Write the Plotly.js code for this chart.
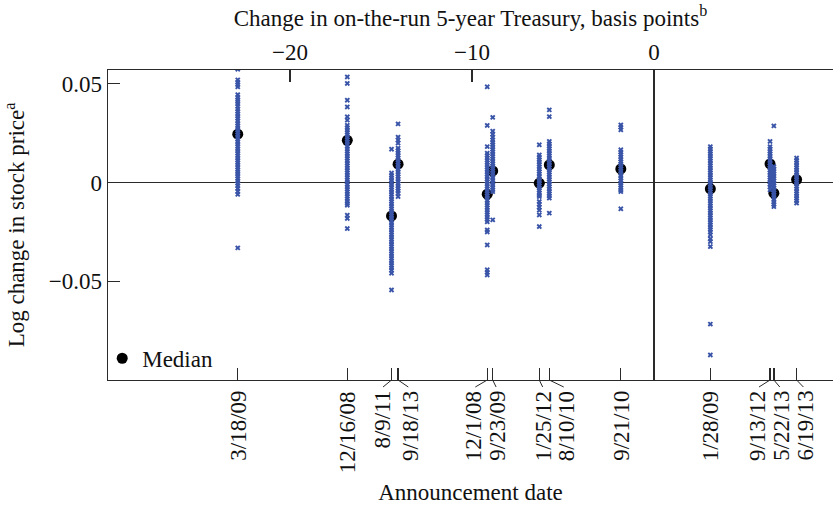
<!DOCTYPE html>
<html>
<head>
<meta charset="utf-8">
<script src="https://cdn.plot.ly/plotly-3.0.1.min.js"></script>
<style>html,body{margin:0;padding:0;background:#fff;}#chart{width:833px;height:506px;}</style>
</head>
<body>
<div id="chart"></div>
<script>
// Announcement dates (ordered by change in 5-year Treasury yield)
const dates = ['3/18/09','12/16/08','8/9/11','9/18/13','12/1/08','9/23/09','1/25/12','8/10/10','9/21/10','1/28/09','9/13/12','5/22/13','6/19/13'];
// Change in on-the-run 5-year Treasury, basis points
const bpChange = [-22.87,-16.85,-14.42,-14.06,-9.16,-8.86,-6.30,-5.75,-1.82,3.10,6.38,6.59,7.84];
// Median log change in stock price
const medians = [0.0245,0.0214,-0.0169,0.0093,-0.0059,0.0059,-0.0003,0.0089,0.0069,-0.0032,0.0095,-0.0054,0.0015];

// Individual stock log price changes, one array per announcement
const r_031809 = [0.0574,0.0520,0.0508,0.0496,0.0485,0.0445,0.0432,0.0420,0.0410,0.0398,0.0386,0.0372,0.0360,0.0348,0.0336,0.0325,0.0312,0.0300,0.0288,0.0276,0.0265,0.0254,0.0242,0.0230,0.0218,0.0206,0.0195,0.0183,0.0171,0.0160,0.0148,0.0136,0.0124,0.0113,0.0101,0.0090,0.0078,0.0066,0.0055,0.0043,0.0032,0.0020,0.0008,-0.0004,-0.0016,-0.0030,-0.0045,-0.0060,-0.0331];
const r_121608 = [0.0535,0.0502,0.0417,0.0383,0.0333,0.0316,0.0290,0.0278,0.0266,0.0254,0.0242,0.0230,0.0218,0.0206,0.0194,0.0182,0.0170,0.0158,0.0146,0.0134,0.0122,0.0110,0.0098,0.0086,0.0074,0.0062,0.0050,0.0038,0.0026,0.0014,0.0002,-0.0010,-0.0022,-0.0034,-0.0046,-0.0058,-0.0070,-0.0082,-0.0094,-0.0106,-0.0115,-0.0165,-0.0182,-0.0233];
const r_080911 = [0.0169,0.0048,0.0036,0.0024,0.0012,0.0000,-0.0012,-0.0024,-0.0036,-0.0048,-0.0060,-0.0072,-0.0084,-0.0096,-0.0108,-0.0120,-0.0132,-0.0144,-0.0156,-0.0168,-0.0180,-0.0192,-0.0204,-0.0216,-0.0228,-0.0240,-0.0252,-0.0264,-0.0276,-0.0288,-0.0300,-0.0312,-0.0324,-0.0336,-0.0348,-0.0360,-0.0372,-0.0384,-0.0396,-0.0408,-0.0420,-0.0432,-0.0444,-0.0459,-0.0544];
const r_091813 = [0.0297,0.0230,0.0215,0.0200,0.0174,0.0162,0.0150,0.0138,0.0126,0.0114,0.0102,0.0090,0.0078,0.0066,0.0054,0.0042,0.0030,0.0018,0.0006,-0.0006,-0.0018,-0.0030,-0.0042,-0.0054,-0.0071];
const r_120108 = [0.0485,0.0289,0.0182,0.0149,0.0137,0.0125,0.0113,0.0101,0.0089,0.0077,0.0065,0.0053,0.0041,0.0029,0.0017,0.0005,-0.0007,-0.0019,-0.0031,-0.0043,-0.0055,-0.0067,-0.0079,-0.0091,-0.0103,-0.0115,-0.0127,-0.0139,-0.0151,-0.0163,-0.0175,-0.0187,-0.0199,-0.0240,-0.0250,-0.0316,-0.0442,-0.0455,-0.0468];
const r_092309 = [0.0330,0.0260,0.0245,0.0230,0.0216,0.0204,0.0192,0.0180,0.0168,0.0156,0.0144,0.0132,0.0120,0.0108,0.0096,0.0084,0.0072,0.0060,0.0048,0.0036,0.0024,0.0012,0.0000,-0.0012,-0.0024,-0.0036,-0.0046,-0.0189];
const r_012512 = [0.0191,0.0140,0.0128,0.0116,0.0104,0.0092,0.0080,0.0068,0.0056,0.0044,0.0032,0.0020,0.0008,-0.0004,-0.0016,-0.0028,-0.0040,-0.0052,-0.0064,-0.0071,-0.0096,-0.0110,-0.0125,-0.0140,-0.0164,-0.0223];
const r_081010 = [0.0368,0.0334,0.0208,0.0196,0.0184,0.0172,0.0160,0.0148,0.0136,0.0124,0.0112,0.0100,0.0088,0.0076,0.0064,0.0052,0.0040,0.0028,0.0016,0.0004,-0.0008,-0.0020,-0.0032,-0.0044,-0.0056,-0.0068,-0.0079,-0.0155];
const r_092110 = [0.0292,0.0280,0.0267,0.0166,0.0154,0.0142,0.0130,0.0118,0.0106,0.0094,0.0082,0.0070,0.0058,0.0046,0.0034,0.0022,0.0010,-0.0002,-0.0014,-0.0026,-0.0038,-0.0046,-0.0133];
const r_012809 = [0.0182,0.0170,0.0158,0.0146,0.0134,0.0122,0.0110,0.0098,0.0086,0.0074,0.0062,0.0050,0.0038,0.0026,0.0014,0.0002,-0.0010,-0.0022,-0.0034,-0.0046,-0.0058,-0.0070,-0.0082,-0.0094,-0.0106,-0.0118,-0.0130,-0.0142,-0.0154,-0.0166,-0.0178,-0.0190,-0.0202,-0.0214,-0.0226,-0.0238,-0.0250,-0.0265,-0.0285,-0.0299,-0.0324,-0.0717,-0.0873];
const r_091312 = [0.0208,0.0182,0.0170,0.0158,0.0146,0.0134,0.0122,0.0110,0.0098,0.0086,0.0074,0.0062,0.0050,0.0038,0.0026,0.0014,0.0002,-0.0010,-0.0022,-0.0037];
const r_052213 = [0.0287,0.0081,0.0069,0.0057,0.0045,0.0033,0.0021,0.0009,-0.0003,-0.0015,-0.0027,-0.0039,-0.0051,-0.0063,-0.0075,-0.0087,-0.0099,-0.0111,-0.0122];
const r_061913 = [0.0124,0.0112,0.0100,0.0088,0.0076,0.0064,0.0052,0.0040,0.0028,0.0016,0.0004,-0.0008,-0.0020,-0.0032,-0.0044,-0.0056,-0.0068,-0.0080,-0.0092,-0.0104];

const returnsByEvent = [r_031809,r_121608,r_080911,r_091813,r_120108,r_092309,r_012512,r_081010,r_092110,r_012809,r_091312,r_052213,r_061913];

// label nudges (px) to keep rotated date labels apart
const labelNudge = [0,0,-10,12,-14,4,4,17,0,0,-13,7,8];

const topTicks = [-20,-10,0];
const topTickText = ['\u221220','\u221210','0'];
const yTicks = [-0.05,0,0.05];
const yTickText = ['\u22120.05','0','0.05'];

const FONT = 'Liberation Serif, Times New Roman, serif';
const FS = 23;
const LINE = '#2a2a2a';

const xs = [], ys = [];
returnsByEvent.forEach((arr, i) => arr.forEach(v => { xs.push(bpChange[i]); ys.push(v); }));

const traces = [
  {x: xs, y: ys, xaxis: 'x2', yaxis: 'y', type: 'scatter', mode: 'markers', showlegend: false, hoverinfo: 'skip',
   marker: {symbol: 'x', size: 4.8, color: '#3a55a8', line: {width: 0}}},
  {x: bpChange, y: medians, xaxis: 'x', yaxis: 'y', type: 'scatter', mode: 'markers', name: 'Median',
   marker: {symbol: 'circle', size: 11, color: '#000'}}
];

const xRange = [-30, 9.84];
const toPaperX = v => (v - xRange[0]) / (xRange[1] - xRange[0]);
const annotations = dates.map((d, i) => ({
  text: d, x: bpChange[i], xref: 'x', y: 0, yref: 'paper',
  xanchor: 'center', yanchor: 'top', xshift: labelNudge[i], yshift: -9,
  textangle: -90, showarrow: false, font: {family: FONT, size: FS, color: '#111'}
}));
const shapes = [];
dates.forEach((d, i) => {
  if (labelNudge[i] !== 0) {
    shapes.push({type: 'line', layer: 'above', xref: 'paper', xsizemode: 'pixel', xanchor: toPaperX(bpChange[i]), x0: 0, x1: labelNudge[i] * 0.85,
      yref: 'paper', ysizemode: 'pixel', yanchor: 0, y0: 0, y1: -7, line: {color: LINE, width: 1}});
  }
});

const layout = {
  width: 833, height: 506,
  margin: {l: 108, r: 0, t: 70, b: 126},
  paper_bgcolor: '#fff', plot_bgcolor: '#fff',
  font: {family: FONT, size: FS, color: '#111'},
  showlegend: true,
  legend: {x: -0.008, y: 0.07, xanchor: 'left', yanchor: 'middle', bgcolor: 'rgba(0,0,0,0)', font: {family: FONT, size: FS}},
  xaxis: {range: xRange, side: 'top', anchor: 'y', tickvals: topTicks, ticktext: topTickText,
    ticks: 'inside', ticklen: 12, tickwidth: 1.3, tickcolor: LINE,
    showline: true, linecolor: LINE, linewidth: 1.3, showgrid: false,
    zeroline: true, zerolinecolor: LINE, zerolinewidth: 1.3,
    tickfont: {family: FONT, size: FS},
    title: {text: 'Change in on-the-run 5-year Treasury, basis points<sup>b</sup>', font: {family: FONT, size: FS}, standoff: 6}},
  xaxis2: {range: xRange, overlaying: 'x', side: 'bottom', anchor: 'y', tickvals: bpChange,
    ticks: 'inside', ticklen: 12, tickwidth: 1.3, tickcolor: LINE, showticklabels: false,
    showline: true, linecolor: LINE, linewidth: 1.3, showgrid: false, zeroline: false,
    title: {text: 'Announcement date', font: {family: FONT, size: FS}, standoff: 103}},
  yaxis: {range: [-0.1, 0.057], tickvals: yTicks, ticktext: yTickText,
    ticks: 'inside', ticklen: 12, tickwidth: 1.3, tickcolor: LINE,
    showline: true, linecolor: LINE, linewidth: 1.3, showgrid: false,
    zeroline: true, zerolinecolor: LINE, zerolinewidth: 1.3,
    tickfont: {family: FONT, size: FS},
    title: {text: 'Log change in stock price<sup>a</sup>', font: {family: FONT, size: FS}, standoff: 17}},
  annotations: annotations,
  shapes: shapes
};

Plotly.newPlot('chart', traces, layout, {staticPlot: true, displayModeBar: false});
</script>
</body>
</html>
